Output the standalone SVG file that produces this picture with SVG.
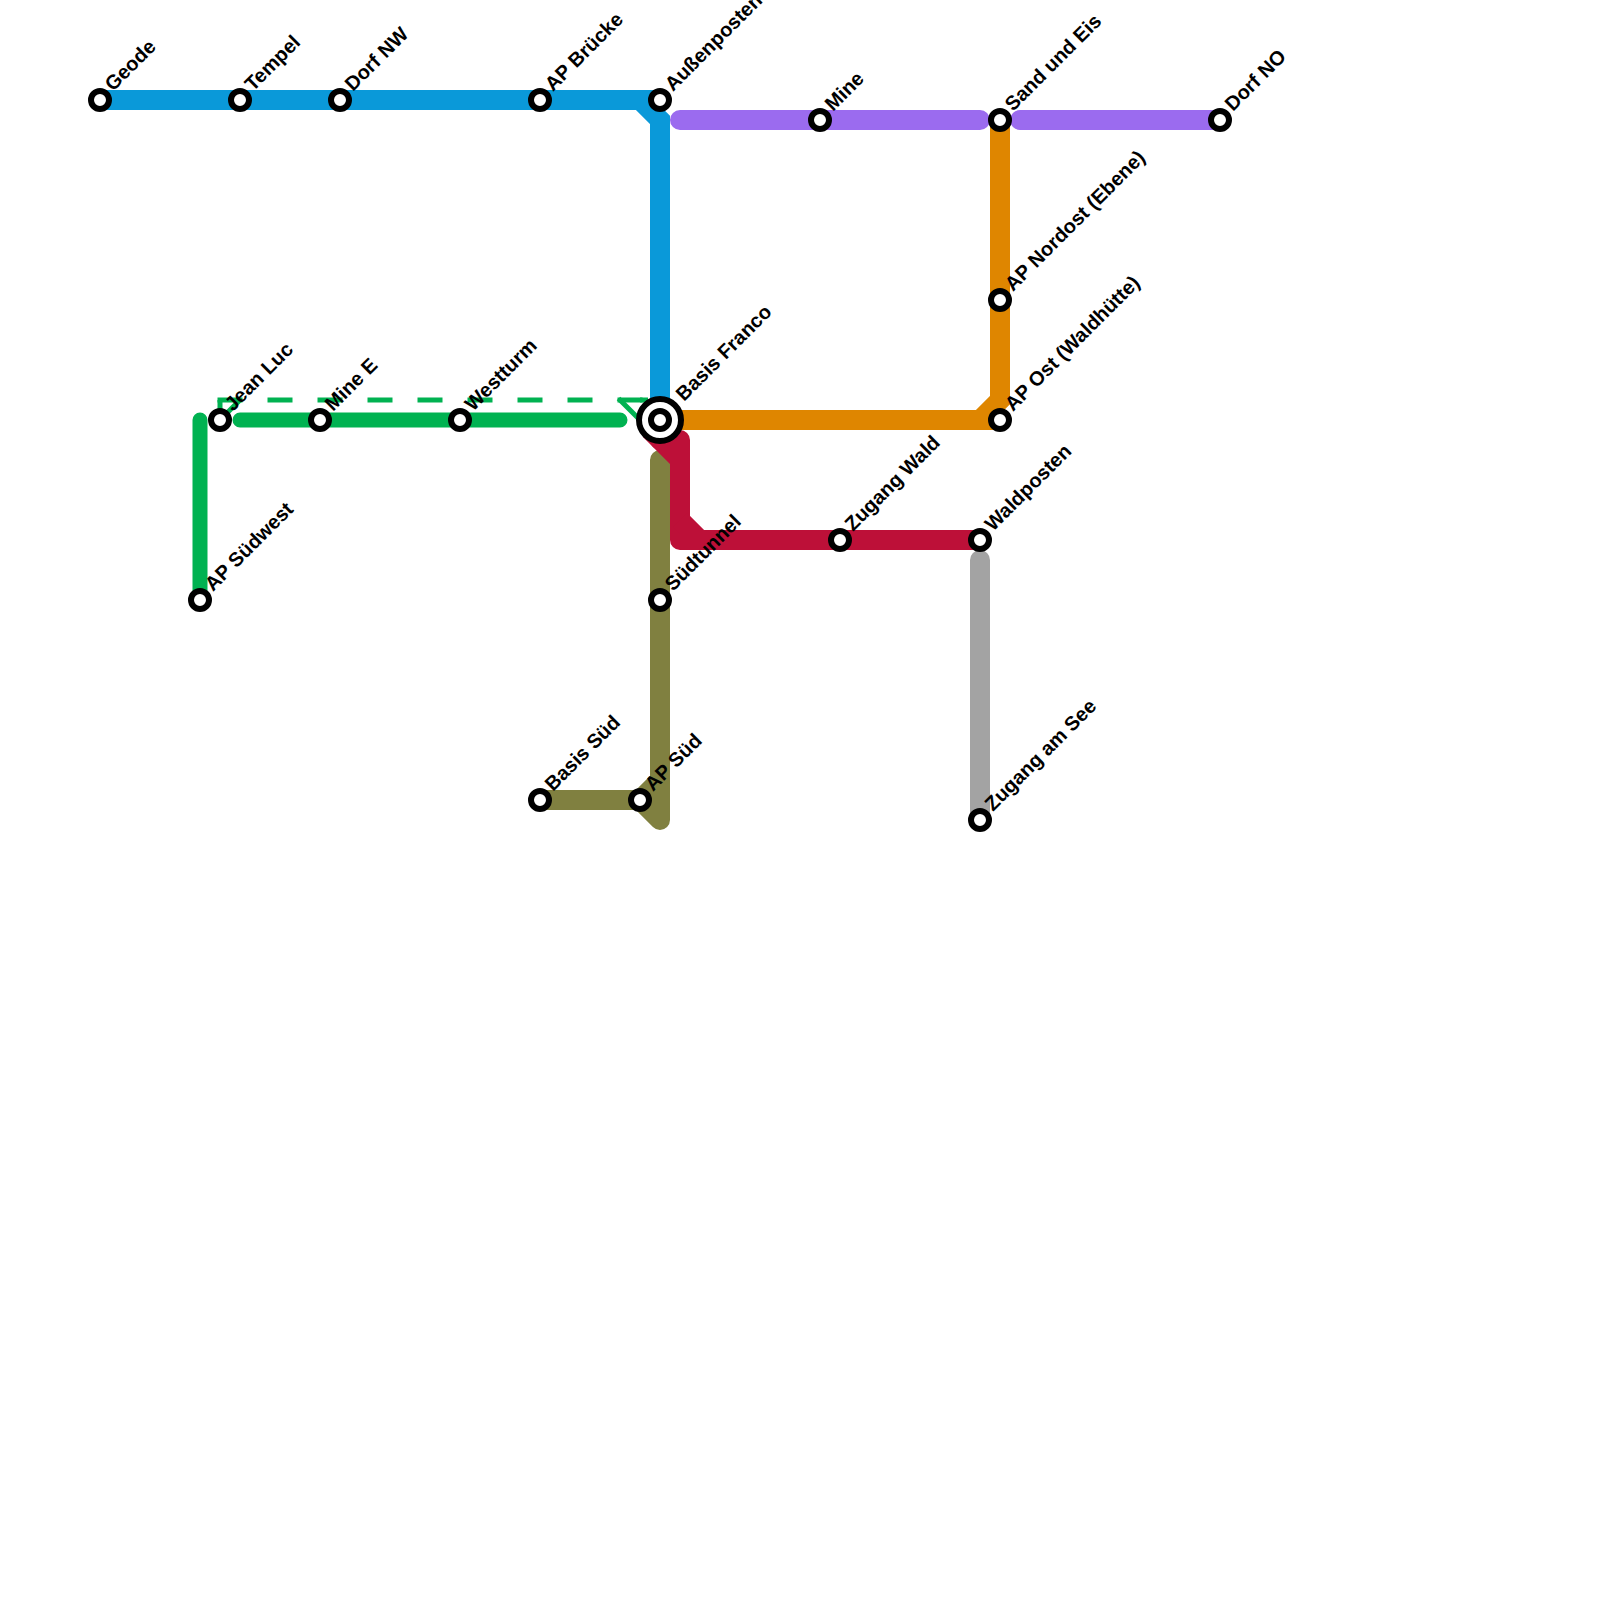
<svg xmlns="http://www.w3.org/2000/svg" width="1600" height="1600" viewBox="0 0 1600 1600">
<style>
.l{fill:none;stroke-width:20;stroke-linejoin:miter}
.r{stroke-linecap:round;stroke-linejoin:round}
.g{stroke:#00b251}
.s{fill:#fff;stroke:#000;stroke-width:6}
text{font:bold 20px "Liberation Sans",Arial,sans-serif;fill:#000}
</style>
<rect width="1600" height="1600" fill="#fff"/>
<g id="connectors">
<path class="l" stroke="#0a99d9" d="M100,100H655M640,100L660,120V420"/>
<path class="l r" stroke="#9b6bef" d="M680,120H980M1020,120H1220"/>
<path class="l" stroke="#df8600" d="M660,420H995M980,420L1000,400V120"/>
<path class="l r" stroke="#808040" d="M660,460V820L640,800H540M640,800L660,780"/>
<path class="l" stroke="#bd1038" d="M650,430L680,460"/>
<path class="l r" stroke="#bd1038" d="M660,440H680V540"/>
<path class="l" stroke="#bd1038" d="M680,540H980M680,520L700,540"/>
<path class="l r" stroke="#a3a3a3" d="M980,560V820"/>
<path class="l r g" style="stroke-width:15" d="M240,420H620M200,420V600"/>
<path class="l g" style="stroke-width:5;stroke-dasharray:25 25" d="M217.5,400H642.5"/>
<path class="l g" style="stroke-width:5" d="M220,400V420M240,400L220,420M618.5,398.5L640,420M640,400H648"/>
</g>
<g id="stations">
<g id="n-geode"><circle class="s" cx="100" cy="100" r="9"/><text transform="translate(113,92) rotate(-45)">Geode</text></g>
<g id="n-tempel"><circle class="s" cx="240" cy="100" r="9"/><text transform="translate(253,92) rotate(-45)">Tempel</text></g>
<g id="n-dorfnw"><circle class="s" cx="340" cy="100" r="9"/><text transform="translate(353,92) rotate(-45)">Dorf NW</text></g>
<g id="n-apbruecke"><circle class="s" cx="540" cy="100" r="9"/><text transform="translate(553,92) rotate(-45)">AP Brücke</text></g>
<g id="n-aussen"><circle class="s" cx="660" cy="100" r="9"/><text transform="translate(673,92) rotate(-45)">Außenposten</text></g>
<g id="n-mine"><circle class="s" cx="820" cy="120" r="9"/><text transform="translate(833,112) rotate(-45)">Mine</text></g>
<g id="n-sand"><circle class="s" cx="1000" cy="120" r="9"/><text transform="translate(1013,112) rotate(-45)">Sand und Eis</text></g>
<g id="n-dorfno"><circle class="s" cx="1220" cy="120" r="9"/><text transform="translate(1233,112) rotate(-45)">Dorf NO</text></g>
<g id="n-nordost"><circle class="s" cx="1000" cy="300" r="9"/><text transform="translate(1013,292) rotate(-45)">AP Nordost (Ebene)</text></g>
<g id="n-ost"><circle class="s" cx="1000" cy="420" r="9"/><text transform="translate(1013,412) rotate(-45)">AP Ost (Waldhütte)</text></g>
<g id="n-franco"><circle class="s" cx="660" cy="420" r="21"/><circle class="s" cx="660" cy="420" r="9"/><text transform="translate(684,402) rotate(-45)">Basis Franco</text></g>
<g id="n-jean"><circle class="s" cx="220" cy="420" r="9"/><text transform="translate(233,412) rotate(-45)">Jean Luc</text></g>
<g id="n-minee"><circle class="s" cx="320" cy="420" r="9"/><text transform="translate(333,412) rotate(-45)">Mine E</text></g>
<g id="n-west"><circle class="s" cx="460" cy="420" r="9"/><text transform="translate(473,412) rotate(-45)">Westturm</text></g>
<g id="n-suedwest"><circle class="s" cx="200" cy="600" r="9"/><text transform="translate(213,592) rotate(-45)">AP Südwest</text></g>
<g id="n-zwald"><circle class="s" cx="840" cy="540" r="9"/><text transform="translate(853,532) rotate(-45)">Zugang Wald</text></g>
<g id="n-waldp"><circle class="s" cx="980" cy="540" r="9"/><text transform="translate(993,532) rotate(-45)">Waldposten</text></g>
<g id="n-suedt"><circle class="s" cx="660" cy="600" r="9"/><text transform="translate(673,592) rotate(-45)">Südtunnel</text></g>
<g id="n-bsued"><circle class="s" cx="540" cy="800" r="9"/><text transform="translate(553,792) rotate(-45)">Basis Süd</text></g>
<g id="n-apsued"><circle class="s" cx="640" cy="800" r="9"/><text transform="translate(653,792) rotate(-45)">AP Süd</text></g>
<g id="n-zsee"><circle class="s" cx="980" cy="820" r="9"/><text transform="translate(993,812) rotate(-45)">Zugang am See</text></g>
</g>
</svg>
